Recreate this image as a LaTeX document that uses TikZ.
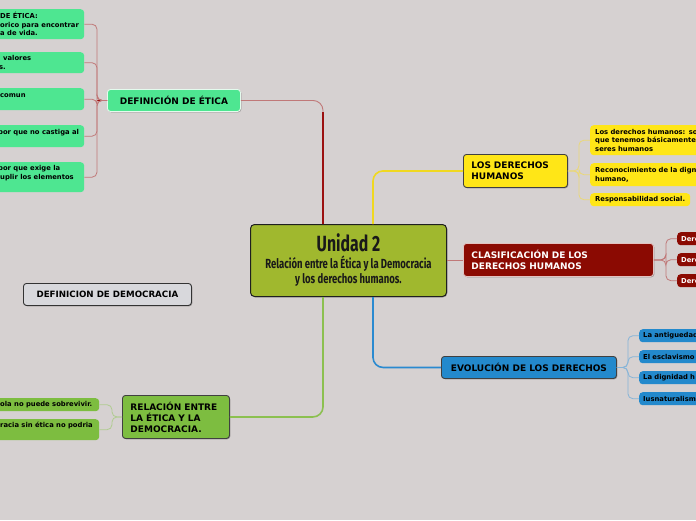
\documentclass[tikz,border=0pt]{standalone}
\usepackage{fontspec}
\setmainfont{DejaVu Sans}
\newfontfamily\titlefont[FakeStretch=0.72]{Fira Sans}
\usetikzlibrary{shadows,calc}
\definecolor{bg}{HTML}{D6D1D1}
\definecolor{uni}{HTML}{A0B82E}
\definecolor{gEt}{HTML}{4EE691}
\definecolor{yDh}{HTML}{FFE617}
\definecolor{rCl}{HTML}{8B0A02}
\definecolor{bEv}{HTML}{2389CC}
\definecolor{gRe}{HTML}{7DBD40}
\definecolor{gDe}{HTML}{D8D8DC}
\definecolor{lnRedDark}{HTML}{9B1010}
\definecolor{lnRed}{HTML}{C07878}
\definecolor{lnYel}{HTML}{F0D820}
\definecolor{lnYelL}{HTML}{EAD878}
\definecolor{lnBlu}{HTML}{2A8AD0}
\definecolor{lnBluL}{HTML}{86B4D8}
\definecolor{lnGre}{HTML}{8CC050}
\definecolor{lnGreL}{HTML}{B0CC90}
\tikzset{
  conn/.style={line width=0.8pt, rounded corners=5pt},
  trunk/.style={line width=1.6pt, rounded corners=10pt},
  mainbox/.style={rounded corners=3pt, inner sep=0pt, inner xsep=8pt, anchor=north west,
    font=\fontsize{9}{11}\selectfont\bfseries, line width=0.9pt,
    drop shadow={shadow xshift=0.8pt, shadow yshift=-0.8pt, opacity=0.3, fill=black}},
  kid/.style={rounded corners=3.5pt, inner sep=0pt, inner xsep=5pt, anchor=north west,
    font=\fontsize{6.8}{8.5}\selectfont\bfseries, align=left},
  kidtext/.style={inner sep=0pt, anchor=west, align=left,
    font=\fontsize{6.8}{8.5}\selectfont\bfseries},
}
\begin{document}
\begin{tikzpicture}[x=1pt,y=-1pt]
\fill[bg] (0,0) rectangle (696,520);
\useasboundingbox (0,0) rectangle (696,520);

% central node
\node[draw=black!88, fill=uni, rounded corners=4pt, line width=1pt, inner sep=0pt,
  minimum width=196pt, minimum height=72pt, anchor=north west, align=center,
  text=black!90, font=\titlefont\bfseries\fontsize{13.2}{15}\selectfont,
  drop shadow={shadow xshift=0.8pt, shadow yshift=-0.8pt, opacity=0.3, fill=black}]
  (unidad) at (250,224)
  {\fontsize{22}{23}\selectfont Unidad 2\\[2pt]
   Relación entre la Ética y la Democracia\\
   y los derechos humanos.};

% main branch nodes
\node[mainbox, fill=gEt, draw=white!85!gEt, minimum width=133pt, minimum height=22pt, align=center]
  (def) at (107,89) {DEFINICIÓN DE ÉTICA};
\node[mainbox, fill=yDh, draw=black!75, minimum width=104pt, minimum height=33pt, text width=88pt, align=left]
  (ldh) at (463,154) {LOS DERECHOS\\HUMANOS};
\node[mainbox, fill=rCl, draw=white!75!rCl, text=white, minimum width=190pt, minimum height=33pt, text width=174pt, align=left]
  (clas) at (463,243) {CLASIFICACIÓN DE LOS\\DERECHOS HUMANOS};
\node[mainbox, fill=bEv, draw=black!75, minimum width=175pt, minimum height=22pt, align=center]
  (evo) at (441,356) {EVOLUCIÓN DE LOS DERECHOS};
\node[mainbox, fill=gRe, draw=black!75, minimum width=107pt, minimum height=43pt, text width=91pt, align=left]
  (rel) at (122,395) {RELACIÓN ENTRE\\LA ÉTICA Y LA\\DEMOCRACIA.};
\node[mainbox, fill=gDe, draw=black!80, minimum width=168pt, minimum height=22pt, align=center,
  font=\fontsize{8.7}{11}\selectfont\bfseries]
  (demo) at (23,283) {DEFINICION DE DEMOCRACIA};

% children of DEFINICION DE ETICA (cut at left edge)
\node[kid, fill=gEt, minimum width=104pt, minimum height=30pt] (e1) at (-20,9) {};
\node[kidtext] (e1t) at (0,24) {DE ÉTICA:\\orico para encontrar\\a de vida.};
\node[kid, fill=gEt, minimum width=104pt, minimum height=21pt] (e2) at (-20,52) {};
\node[kidtext] (e2t) at (-1,62.5) {\hspace*{4pt}valores\\s.};
\node[kid, fill=gEt, minimum width=104pt, minimum height=22pt] (e3) at (-20,88) {};
\node[kidtext] (e3t) at (0,96) {comun};
\node[kid, fill=gEt, minimum width=104pt, minimum height=22pt] (e4) at (-20,125) {};
\node[kidtext] (e4t) at (-2,133) {por que no castiga al};
\node[kid, fill=gEt, minimum width=104pt, minimum height=30pt] (e5) at (-20,162) {};
\node[kidtext] (e5t) at (-2,173) {por que exige la\\\hspace*{2pt}uplir los elementos};

% children of LOS DERECHOS HUMANOS
\node[kid, fill=yDh, minimum width=130pt, minimum height=30pt, text width=120pt] (y1) at (590,125)
  {Los derechos humanos: so\\que tenemos básicamente\\seres humanos};
\node[kid, fill=yDh, minimum width=130pt, minimum height=23pt, text width=120pt] (y2) at (590,163)
  {Reconocimiento de la dign\\humano,};
\node[kid, fill=yDh, minimum width=100pt, minimum height=13pt, text width=90pt] (y3) at (590,193)
  {Responsabilidad social.};

% children of CLASIFICACION
\node[kid, fill=rCl, text=white, minimum width=43pt, minimum height=13pt, inner xsep=4pt, text width=35pt] (r1) at (677,232) {Dere};
\node[kid, fill=rCl, text=white, minimum width=43pt, minimum height=13pt, inner xsep=4pt, text width=35pt] (r2) at (677,253) {Dere};
\node[kid, fill=rCl, text=white, minimum width=43pt, minimum height=13pt, inner xsep=4pt, text width=35pt] (r3) at (677,274) {Dere};

% children of EVOLUCION
\node[kid, fill=bEv, minimum width=81pt, minimum height=13pt, inner xsep=4pt, text width=73pt] (b1) at (639,329) {La antiguedad};
\node[kid, fill=bEv, minimum width=81pt, minimum height=13pt, inner xsep=4pt, text width=73pt] (b2) at (639,350) {El esclavismo};
\node[kid, fill=bEv, minimum width=81pt, minimum height=13pt, inner xsep=4pt, text width=73pt] (b3) at (639,371) {La dignidad h};
\node[kid, fill=bEv, minimum width=81pt, minimum height=13pt, inner xsep=4pt, text width=73pt] (b4) at (639,392) {Iusnaturalism};

% children of RELACION
\node[kid, fill=gRe, minimum width=119pt, minimum height=13pt] (g1) at (-20,398) {};
\node[kidtext] (g1t) at (0,404.5) {ola no puede sobrevivir.};
\node[kid, fill=gRe, minimum width=119pt, minimum height=21pt] (g2) at (-20,419) {};
\node[kidtext] (g2t) at (0,425) {racia sin ética no podria};

% trunks from central node
\coordinate (dTop) at (323,112);
\draw[lnRed, line width=0.9pt, rounded corners=10pt] ([xshift=73pt]unidad.north west) |- (def.east);
\draw[lnRedDark, line width=1.8pt] ([xshift=73pt]unidad.north west) -- (dTop);
\draw[lnYel, trunk] ([xshift=123pt]unidad.north west) |- (ldh.west);
\draw[lnBlu, trunk] ([xshift=123pt]unidad.south west) |- (evo.west);
\draw[lnGre, trunk] ([xshift=73pt]unidad.south west) |- (rel.east);
\draw[lnRed, line width=0.9pt] (unidad.east |- clas.west) -- (clas.west);

% branches
\draw[lnRedDark, line width=1.4pt] (def.west) -- ++(-10,0);
\foreach \k in {e1,e2,e3,e4,e5}
  \draw[lnRed, conn] (def.west) -- ++(-10,0) |- (\k.east);
\foreach \k in {y1,y2,y3}
  \draw[lnYelL, conn] (ldh.east) -- ++(11,0) |- (\k.west);
\foreach \k in {r1,r2,r3}
  \draw[lnRed, conn] (clas.east) -- ++(12,0) |- (\k.west);
\foreach \k in {b1,b2,b3,b4}
  \draw[lnBluL, conn] (evo.east) -- ++(11,0) |- (\k.west);
\foreach \k in {g1,g2}
  \draw[lnGreL, conn] (rel.west) -- ++(-10,0) |- (\k.east);
\end{tikzpicture}
\end{document}
